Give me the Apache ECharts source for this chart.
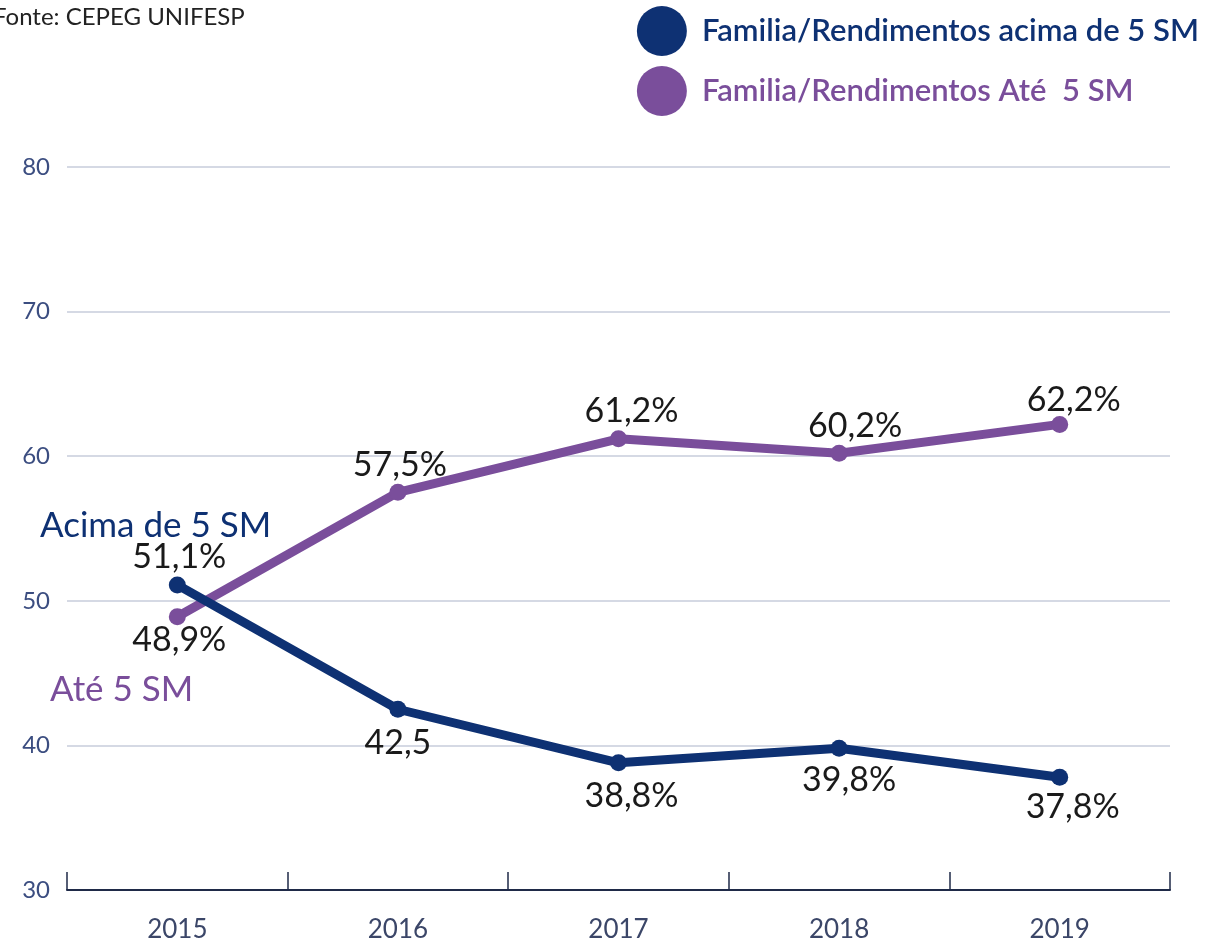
<!DOCTYPE html>
<html>
<head>
<meta charset="utf-8">
<script src="https://cdn.jsdelivr.net/npm/echarts@6/dist/echarts.min.js"></script>
<style>
  html, body { margin: 0; padding: 0; background: #fff; }
  #chart { width: 1212px; height: 946px; }
</style>
</head>
<body>
<div id="chart"></div>
<script>
const years = ['2015', '2016', '2017', '2018', '2019']
const acimaValues = [51.1, 42.5, 38.8, 39.8, 37.8]
const ateValues = [48.9, 57.5, 61.2, 60.2, 62.2]
const acimaLabels = ['51,1%', '42,5', '38,8%', '39,8%', '37,8%']
const ateLabels = ['48,9%', '57,5%', '61,2%', '60,2%', '62,2%']
const yTicks = [30, 40, 50, 60, 70, 80]

const NAVY = '#0e3173'
const PURPLE = '#7a4e9b'
const FONT = 'Lato, "Noto Sans", sans-serif'

// posição dos rótulos de cada ponto
const acimaPos = ['top', 'bottom', 'bottom', 'bottom', 'bottom']
const atePos = ['bottom', 'top', 'top', 'top', 'top']
const acimaOff = [[2, 0], [0, 6], [13, 6], [10, 4], [13, 2]]
const ateOff = [[2, -4], [2, 0], [13, 0], [16, 0], [14, 3]]

function buildData(values, labels, pos, off) {
  return values.map((v, i) => ({
    value: v,
    label: { position: pos[i], offset: off[i], formatter: labels[i] },
  }))
}

const labelStyle = {
  show: true,
  fontSize: 34,
  color: '#1a1a1a',
  fontFamily: FONT,
  distance: 2,
}

const chart = echarts.init(document.getElementById('chart'))
chart.setOption({
  backgroundColor: '#fff',
  animation: false,
  title: {
    text: 'Fonte: CEPEG UNIFESP',
    left: -12, top: 0,
    textStyle: { fontSize: 24, fontWeight: 'normal', color: '#222', fontFamily: FONT },
  },
  legend: {
    orient: 'vertical',
    right: 8, top: 1,
    icon: 'circle',
    itemWidth: 52, itemHeight: 50,
    itemGap: 10,
    textStyle: { fontSize: 31, fontWeight: 600, fontFamily: FONT, padding: [0, 0, 0, 9] },
    data: [
      { name: 'Familia/Rendimentos acima de 5 SM', textStyle: { color: NAVY } },
      { name: 'Familia/Rendimentos Até  5 SM', textStyle: { color: PURPLE } },
    ],
  },
  grid: { left: 67, right: 42, top: 167, bottom: 56, containLabel: false },
  xAxis: {
    type: 'category',
    data: years,
    boundaryGap: true,
    axisLine: { show: true, lineStyle: { color: '#1f2a48', width: 2 } },
    axisTick: { show: true, inside: true, length: 18, lineStyle: { color: '#1f2a48', width: 1.5 } },
    axisLabel: { fontSize: 26, color: '#3b4668', margin: 27, fontFamily: FONT },
  },
  yAxis: {
    type: 'value',
    min: yTicks[0], max: yTicks[yTicks.length - 1], interval: 10,
    axisLine: { show: false },
    axisTick: { show: false },
    axisLabel: {
      fontSize: 24, color: '#3b4d80', margin: 17, fontFamily: FONT,
      formatter: v => (yTicks.includes(v) ? String(v) : ''),
    },
    splitLine: { show: true, lineStyle: { color: '#c7ccdb', width: 1.5 } },
  },
  series: [
    {
      name: 'Familia/Rendimentos acima de 5 SM',
      type: 'line',
      data: buildData(acimaValues, acimaLabels, acimaPos, acimaOff),
      color: NAVY,
      lineStyle: { width: 9, color: NAVY },
      symbol: 'circle', symbolSize: 17,
      itemStyle: { color: NAVY },
      label: labelStyle,
      z: 3,
    },
    {
      name: 'Familia/Rendimentos Até  5 SM',
      type: 'line',
      data: buildData(ateValues, ateLabels, atePos, ateOff),
      color: PURPLE,
      lineStyle: { width: 9, color: PURPLE },
      symbol: 'circle', symbolSize: 17,
      itemStyle: { color: PURPLE },
      label: labelStyle,
      z: 2,
    },
  ],
  graphic: [
    {
      type: 'text', left: 40, top: 508,
      style: { text: 'Acima de 5 SM', fontSize: 35, fill: NAVY, fontFamily: FONT },
    },
    {
      type: 'text', left: 50, top: 672,
      style: { text: 'Até 5 SM', fontSize: 35, fill: PURPLE, fontFamily: FONT },
    },
  ],
})
</script>
</body>
</html>
